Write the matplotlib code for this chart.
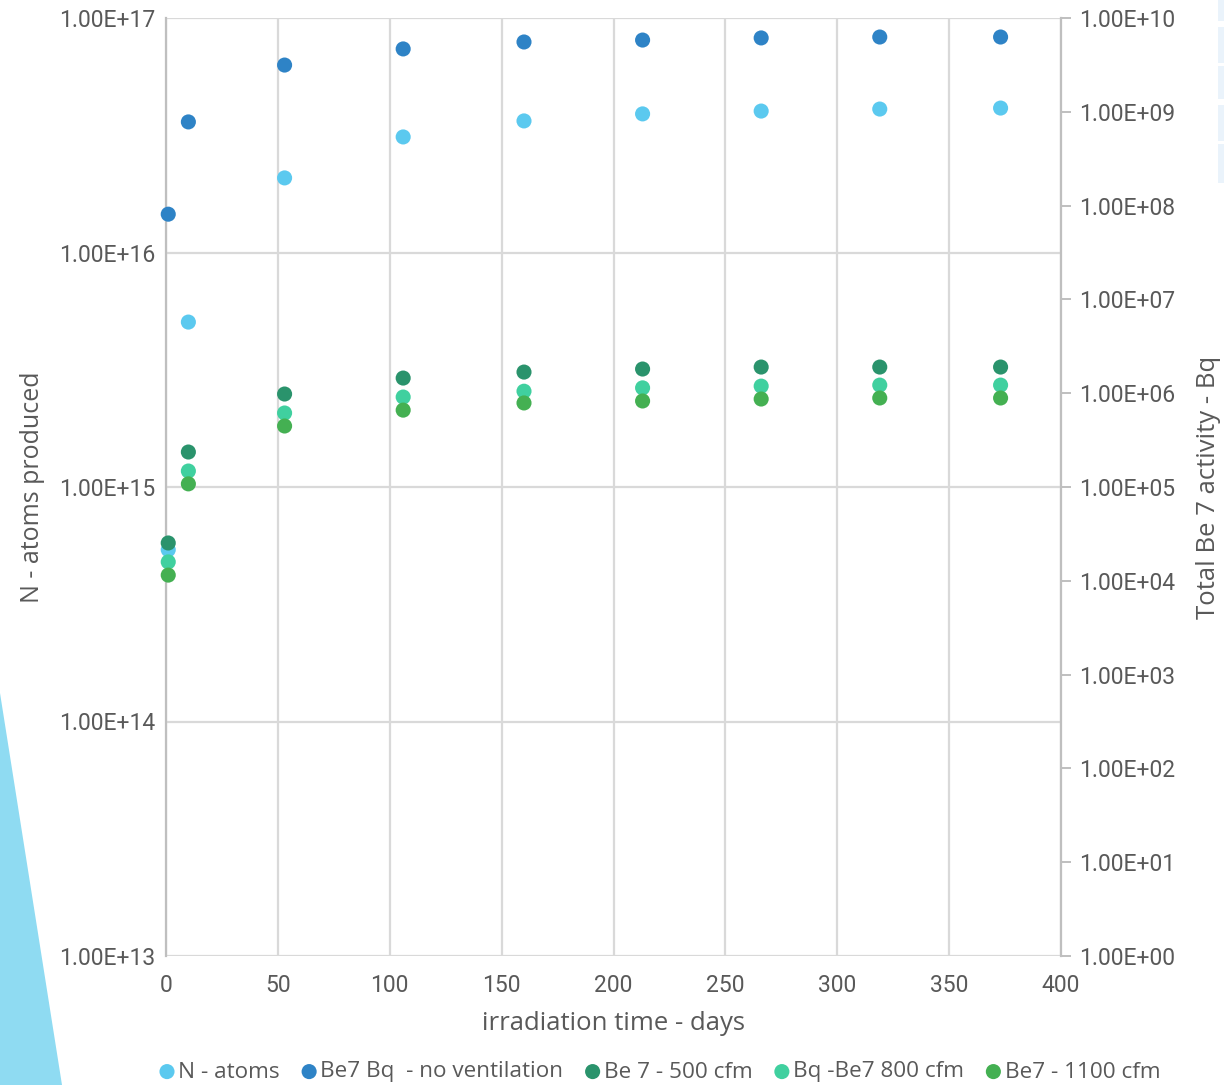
import matplotlib
matplotlib.use("Agg")
import matplotlib.pyplot as plt
from matplotlib.patches import Polygon, Rectangle
from matplotlib.ticker import FixedLocator, FuncFormatter, NullLocator

plt.rcParams['font.family'] = ['Open Sans', 'DejaVu Sans']

# irradiation time (days)
days = [1, 10, 53, 106, 160, 213, 266, 319, 373]

# left axis: number of Be-7 atoms produced
n_atoms = [5.4e14, 5.05e15, 2.08e16, 3.11e16, 3.64e16, 3.90e16, 4.01e16, 4.09e16, 4.13e16]

# right axis: total Be-7 activity (Bq)
bq_no_vent = [8.1e7, 7.8e8, 3.15e9, 4.68e9, 5.55e9, 5.82e9, 6.13e9, 6.27e9, 6.27e9]
bq_500 = [2.53e4, 2.36e5, 9.8e5, 1.45e6, 1.68e6, 1.81e6, 1.90e6, 1.90e6, 1.90e6]
bq_800 = [1.59e4, 1.48e5, 6.15e5, 9.1e5, 1.05e6, 1.14e6, 1.19e6, 1.22e6, 1.22e6]
bq_1100 = [1.15e4, 1.08e5, 4.47e5, 6.6e5, 7.87e5, 8.26e5, 8.67e5, 8.89e5, 8.89e5]

labels = ["N - atoms", "Be7 Bq  - no ventilation", "Be 7 - 500 cfm",
          "Bq -Be7 800 cfm", "Be7 - 1100 cfm"]
colors = ["#5BC9EF", "#2E83C6", "#2A936C", "#40D09F", "#44B052"]

left_ticks = [1e13, 1e14, 1e15, 1e16, 1e17]
right_ticks = [10.0 ** k for k in range(0, 11)]
x_ticks = list(range(0, 401, 50))

W, H = 1224, 1085
fig = plt.figure(figsize=(W / 100, H / 100), dpi=100)

# decorative shape on the lower left
fig.patches.append(Polygon([(0, 1 - 693 / H), (62 / W, 0), (0, 0)],
                           closed=True, transform=fig.transFigure,
                           facecolor="#8FDBF2", edgecolor="none", zorder=0))
# faint panels along the right edge
for y0, y1 in [(0, 7), (9, 21), (22, 33), (35, 47), (48, 61)]:
    fig.patches.append(Rectangle((1218 / W, 1 - (y1 * 3) / H), 6 / W, (y1 - y0) * 3 / H,
                                 transform=fig.transFigure, facecolor="#EAF3FB",
                                 edgecolor="none", zorder=0))

ax = fig.add_axes([166 / W, 1 - 956 / H, (1061 - 166) / W, (956 - 18) / H])
ax.set_facecolor("none")
ax2 = ax.twinx()

grid_c = "#D9D9D9"
text_c = "#595959"
ms = 118
tick_font = dict(family=["Roboto", "DejaVu Sans"], size=16.5)

ax.set_yscale("log")
ax.set_ylim(1e13, 1e17)
ax.set_xlim(0, 400)
ax2.set_yscale("log")
ax2.set_ylim(1e0, 1e10)

ax.xaxis.set_major_locator(FixedLocator(x_ticks))
ax.yaxis.set_major_locator(FixedLocator(left_ticks))
ax.yaxis.set_minor_locator(NullLocator())
ax2.yaxis.set_major_locator(FixedLocator(right_ticks))
ax2.yaxis.set_minor_locator(NullLocator())
fmt = FuncFormatter(lambda v, p: "{:.2E}".format(v))
ax.yaxis.set_major_formatter(fmt)
ax2.yaxis.set_major_formatter(fmt)

ax.grid(True, which="major", color=grid_c, linewidth=1.6)
ax.set_axisbelow(True)
for s in ["top", "bottom", "right"]:
    ax.spines[s].set_visible(False)
ax.spines["left"].set_color("#BFBFBF")
ax.spines["left"].set_linewidth(1.6)
for s in ["left", "top", "bottom"]:
    ax2.spines[s].set_visible(False)
ax2.spines["right"].set_color("#BFBFBF")
ax2.spines["right"].set_linewidth(1.6)

ax.tick_params(axis="x", length=0, pad=13, labelcolor=text_c)
ax.tick_params(axis="y", length=0, pad=8, labelcolor=text_c)
ax2.tick_params(axis="y", length=7, width=1.4, color="#BFBFBF", pad=6,
                labelcolor=text_c)
for lab in ax.get_xticklabels() + ax.get_yticklabels() + ax2.get_yticklabels():
    lab.set_fontproperties(tick_font)

h0 = ax.scatter(days, n_atoms, s=ms, color=colors[0], label=labels[0], zorder=3,
                edgecolors="none", clip_on=False)
handles = [h0]
for vals, c, lab in zip([bq_no_vent, bq_500, bq_800, bq_1100], colors[1:], labels[1:]):
    handles.append(ax2.scatter(days, vals, s=ms, color=c, label=lab, zorder=3,
                               edgecolors="none", clip_on=False))

ax.set_xlabel("irradiation time - days", fontsize=18.5, color=text_c, labelpad=10)
ax.set_ylabel("N - atoms produced", fontsize=18, color=text_c, labelpad=10)
ax2.set_ylabel("Total Be 7 activity - Bq", fontsize=18.5, color=text_c, labelpad=15)

fig.legend(handles=handles, labels=labels, loc="center",
           bbox_to_anchor=(658 / W, 1 - 1072 / H), ncol=5, frameon=False,
           fontsize=16.2, labelcolor=text_c, handletextpad=0.0, columnspacing=0.8,
           markerscale=1.0, handlelength=1.0)

fig.savefig("out.png", dpi=100)
